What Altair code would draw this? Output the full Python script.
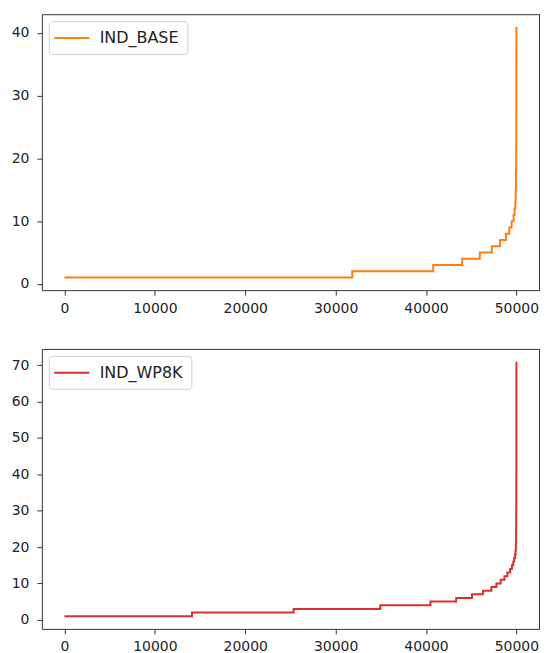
import altair as alt
import pandas as pd

# IND_BASE: sorted values, given as (start index, value) step breakpoints
base_idx = [0, 31840, 40800, 44000, 45950, 47280, 48180, 48840, 49210, 49470,
            49690, 49800, 49880, 49920, 49950, 49970, 49985, 49993, 49997, 49999]
base_val = [1, 2, 3, 4, 5, 6, 7, 8, 9, 10,
            11, 12, 13, 15, 18, 22, 28, 34, 38, 41]

# IND_WP8K
wp_idx = [0, 14110, 25360, 34940, 40490, 43340, 45090, 46300, 47230, 47790,
          48260, 48680, 49000, 49300, 49500, 49650, 49750, 49850, 49900, 49940,
          49965, 49980, 49990, 49995, 49998, 49999]
wp_val = [1, 2, 3, 4, 5, 6, 7, 8, 9, 10,
          11, 12, 13, 14, 15, 16, 17, 18, 19, 21,
          25, 30, 40, 50, 60, 71]

x_ticks = [0, 10000, 20000, 30000, 40000, 50000]
x_domain = [-2500, 52499]
FONT = "DejaVu Sans"


def panel(idx, val, name, color, ydom, yticks, h):
    df = pd.DataFrame({"i": idx, "v": val, "s": [name] * len(idx)})
    return alt.Chart(df).mark_line(interpolate="step-after", strokeWidth=2).encode(
        x=alt.X("i:Q", scale=alt.Scale(domain=x_domain, nice=False, zero=False),
                axis=alt.Axis(values=x_ticks, format="d", title=None, minExtent=24, maxExtent=24)),
        y=alt.Y("v:Q", scale=alt.Scale(domain=ydom, nice=False, zero=False),
                axis=alt.Axis(values=yticks, format="d", title=None, labelPadding=8,
                              minExtent=31, maxExtent=31)),
        color=alt.Color("s:N", scale=alt.Scale(domain=[name], range=[color]),
                        legend=alt.Legend(orient="top-left", title=None)),
    ).properties(width=499, height=h)


top = panel(base_idx, base_val, "IND_BASE", "#ff7f0e", [-1, 43], [0, 10, 20, 30, 40], 277)
bot = panel(wp_idx, wp_val, "IND_WP8K", "#dc2f2f", [-2.5, 74.5],
            [0, 10, 20, 30, 40, 50, 60, 70], 281)

chart = alt.vconcat(top, bot, spacing=32).resolve_scale(color="independent").properties(
    padding={"left": 2, "top": 4, "right": 0, "bottom": 0}
).configure_view(stroke="#333333", strokeWidth=1).configure_axis(
    domain=False, grid=False, tickSize=5, tickColor="#333333", labelPadding=6,
    labelFontSize=14, labelFont=FONT, labelColor="#222222"
).configure_axisX(labelPadding=6).configure_legend(
    strokeColor="#d0d0d0", fillColor="white", padding=8, cornerRadius=3, offset=7,
    symbolType="M-2.2,0H2.2", symbolSize=256, symbolStrokeWidth=2, symbolOffset=6,
    labelFontSize=16, labelFont=FONT, labelColor="#222222", labelOffset=19
)

chart.save("out.html", embed_options={"renderer": "svg", "actions": False})
